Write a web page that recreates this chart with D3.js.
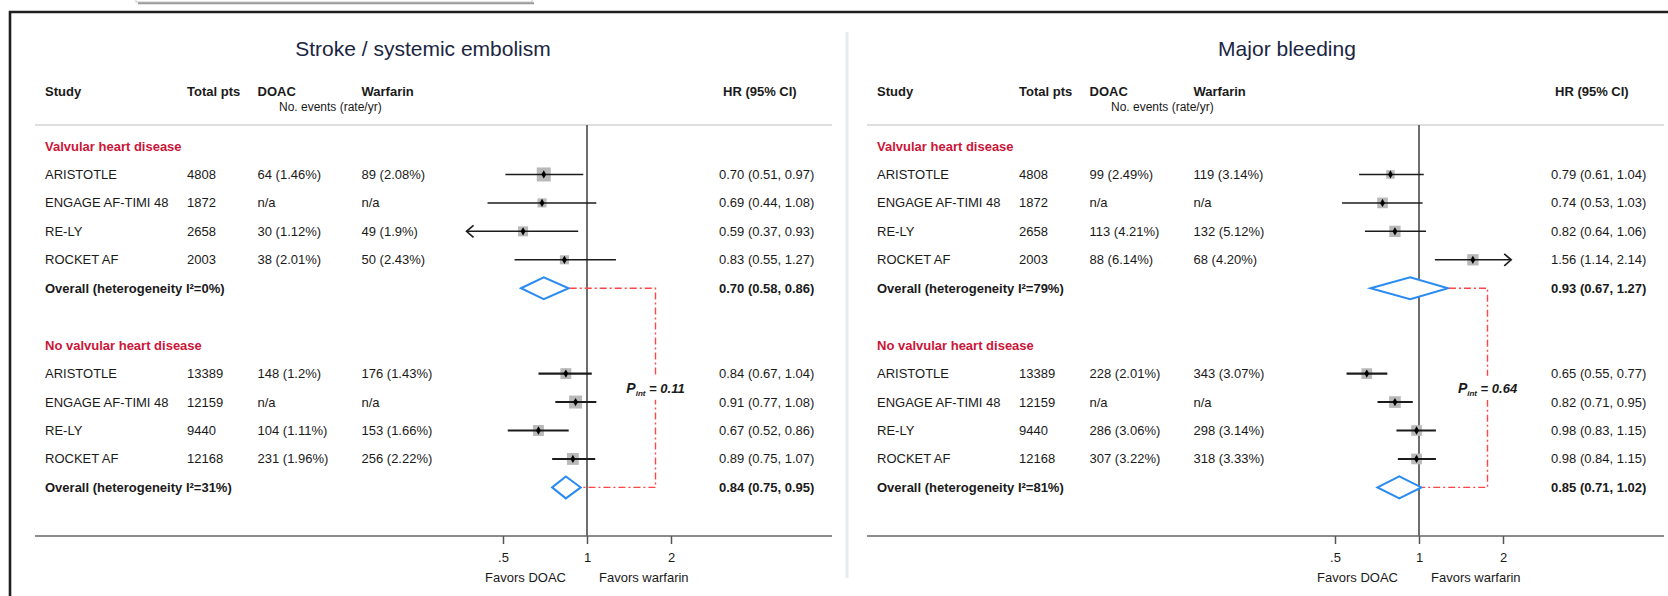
<!DOCTYPE html>
<html>
<head>
<meta charset="utf-8">
<script src="https://cdn.jsdelivr.net/npm/d3@7"></script>
<style>
  html, body { margin: 0; padding: 0; background: #fff; }
  svg { display: block; font-family: "Liberation Sans", Arial, Helvetica, sans-serif; }
</style>
</head>
<body>
<svg id="chart" width="1668" height="596"></svg>
<script>
// ---- Data -------------------------------------------------------------
const studies = ["ARISTOTLE", "ENGAGE AF-TIMI 48", "RE-LY", "ROCKET AF"];
const subgroups = ["Valvular heart disease", "No valvular heart disease"];
const totalPts = [[4808, 1872, 2658, 2003], [13389, 12159, 9440, 12168]];
const tickValues = [0.5, 1, 2];
const tickLabels = [".5", "1", "2"];

// Stroke / systemic embolism
const strokeDoac = [["64 (1.46%)", "n/a", "30 (1.12%)", "38 (2.01%)"],
                    ["148 (1.2%)", "n/a", "104 (1.11%)", "231 (1.96%)"]];
const strokeWarf = [["89 (2.08%)", "n/a", "49 (1.9%)", "50 (2.43%)"],
                    ["176 (1.43%)", "n/a", "153 (1.66%)", "256 (2.22%)"]];
const strokeHR = [[0.70, 0.69, 0.59, 0.83], [0.84, 0.91, 0.67, 0.89]];
const strokeLo = [[0.51, 0.44, 0.37, 0.55], [0.67, 0.77, 0.52, 0.75]];
const strokeHi = [[0.97, 1.08, 0.93, 1.27], [1.04, 1.08, 0.86, 1.07]];
const strokeWeight = [[43, 18, 22, 18], [26, 37, 26, 31]];
const strokeOverallHR = [0.70, 0.84];
const strokeOverallLo = [0.58, 0.75];
const strokeOverallHi = [0.86, 0.95];
const strokeI2 = [0, 31];
const strokePint = 0.11;

// Major bleeding
const bleedDoac = [["99 (2.49%)", "n/a", "113 (4.21%)", "88 (6.14%)"],
                   ["228 (2.01%)", "n/a", "286 (3.06%)", "307 (3.22%)"]];
const bleedWarf = [["119 (3.14%)", "n/a", "132 (5.12%)", "68 (4.20%)"],
                   ["343 (3.07%)", "n/a", "298 (3.14%)", "318 (3.33%)"]];
const bleedHR = [[0.79, 0.74, 0.82, 1.56], [0.65, 0.82, 0.98, 0.98]];
const bleedLo = [[0.61, 0.53, 0.64, 1.14], [0.55, 0.71, 0.83, 0.84]];
const bleedHi = [[1.04, 1.03, 1.06, 2.14], [0.77, 0.95, 1.15, 1.15]];
const bleedWeight = [[16, 25, 28, 28], [25, 30, 25, 25]];
const bleedOverallHR = [0.93, 0.85];
const bleedOverallLo = [0.67, 0.71];
const bleedOverallHi = [1.27, 1.02];
const bleedI2 = [79, 81];
const bleedPint = 0.64;

const panels = [
  { title: "Stroke / systemic embolism", titleX: 423, doac: strokeDoac, warf: strokeWarf,
    hr: strokeHR, lo: strokeLo, hi: strokeHi, w: strokeWeight,
    oHR: strokeOverallHR, oLo: strokeOverallLo, oHi: strokeOverallHi,
    i2: strokeI2, pint: strokePint },
  { title: "Major bleeding", titleX: 455, doac: bleedDoac, warf: bleedWarf,
    hr: bleedHR, lo: bleedLo, hi: bleedHi, w: bleedWeight,
    oHR: bleedOverallHR, oLo: bleedOverallLo, oHi: bleedOverallHi,
    i2: bleedI2, pint: bleedPint }
];

// ---- Layout -----------------------------------------------------------
const svg = d3.select("#chart");
const W = 1668, H = 596;
const panelOffset = 832;
const col = { study: 45, total: 187, doac: 257.5, warf: 361.5, hr: 719 };
const lineLeft = 35, lineRight = 832;
const headerLineY = 125, axisY = 536;
const rowY = d3.scaleLinear().domain([0, 12]).range([146, 487.4]);
const x = d3.scaleLog().domain([0.25, 4]).range([419, 755]);
const clipLo = 0.4, clipHi = 2;      // CI beyond this window gets an arrow
const bracketAt = 1.76;               // x position of the interaction bracket
const boxSide = d3.scaleSqrt().domain([0, 43]).range([0, 14]);
const fmt = d3.format(".2f");

const textCol = "#1a1a1a";
const redCol = "#cc1539";
const blueCol = "#2a8bf2";
const dashRed = "#ff4545";

svg.append("rect").attr("width", W).attr("height", H).attr("fill", "#fff");

// outer frame (top and left edges) and the tab above it
svg.append("rect").attr("x", 136).attr("y", -6).attr("width", 396).attr("height", 8)
  .attr("fill", "#fff").attr("stroke", "#c8c8c8").attr("stroke-width", 1);
svg.append("line").attr("x1", 138).attr("x2", 534).attr("y1", 3.2).attr("y2", 3.2)
  .attr("stroke", "#9a9a9a").attr("stroke-width", 2);
svg.append("path").attr("d", `M10,${H} V12 H${W}`)
  .attr("fill", "none").attr("stroke", "#1f1f1f").attr("stroke-width", 2.6);

// separator between the two panels
svg.append("line").attr("x1", 847).attr("x2", 847).attr("y1", 32).attr("y2", 578)
  .attr("stroke", "#e4ebf1").attr("stroke-width", 3);

panels.forEach((p, pi) => {
  const g = svg.append("g").attr("transform", `translate(${pi * panelOffset},0)`);

  // title
  g.append("text").attr("x", p.titleX).attr("y", 56).attr("text-anchor", "middle")
    .attr("font-size", 21).attr("fill", "#1b2542").text(p.title);

  // column headers
  const hdr = g.append("g").attr("font-size", 13).attr("font-weight", "bold").attr("fill", textCol);
  hdr.append("text").attr("x", col.study).attr("y", 96).text("Study");
  hdr.append("text").attr("x", col.total).attr("y", 96).text("Total pts");
  hdr.append("text").attr("x", col.doac).attr("y", 96).text("DOAC");
  hdr.append("text").attr("x", col.warf).attr("y", 96).text("Warfarin");
  hdr.append("text").attr("x", col.hr + 4).attr("y", 96).text("HR (95% CI)");
  g.append("text").attr("x", 279).attr("y", 111).attr("font-size", 12).attr("fill", textCol)
    .text("No. events (rate/yr)");

  // rules
  g.append("line").attr("x1", lineLeft).attr("x2", lineRight)
    .attr("y1", headerLineY).attr("y2", headerLineY)
    .attr("stroke", "#bdbdbd").attr("stroke-width", 1.2);
  g.append("line").attr("x1", x(1)).attr("x2", x(1))
    .attr("y1", headerLineY).attr("y2", axisY)
    .attr("stroke", "#4a4a4a").attr("stroke-width", 1.6);
  g.append("line").attr("x1", lineLeft).attr("x2", lineRight)
    .attr("y1", axisY).attr("y2", axisY)
    .attr("stroke", "#666").attr("stroke-width", 1.6);

  // axis ticks
  const axis = d3.axisBottom(x).tickValues(tickValues)
    .tickFormat((d, i) => tickLabels[i]).tickSize(8).tickPadding(9);
  const ax = g.append("g").attr("transform", `translate(0,${axisY})`).call(axis);
  ax.select(".domain").remove();
  ax.selectAll(".tick line").attr("stroke", "#555").attr("stroke-width", 1.5);
  ax.selectAll(".tick text").attr("font-size", 13).attr("fill", textCol)
    .attr("font-family", "Liberation Sans, Arial, sans-serif");
  g.append("text").attr("x", x(1) - 21).attr("y", 582).attr("text-anchor", "end")
    .attr("font-size", 13).attr("fill", textCol).text("Favors DOAC");
  g.append("text").attr("x", x(1) + 12).attr("y", 582)
    .attr("font-size", 13).attr("fill", textCol).text("Favors warfarin");

  subgroups.forEach((sg, gi) => {
    const base = gi * 7;
    g.append("text").attr("x", col.study).attr("y", rowY(base) + 4.5)
      .attr("font-size", 13).attr("font-weight", "bold").attr("fill", redCol).text(sg);

    studies.forEach((s, j) => {
      const y = rowY(base + 1 + j);
      const t = g.append("g").attr("font-size", 13).attr("fill", textCol);
      t.append("text").attr("x", col.study).attr("y", y + 4.5).text(s);
      t.append("text").attr("x", col.total).attr("y", y + 4.5).text(totalPts[gi][j]);
      t.append("text").attr("x", col.doac).attr("y", y + 4.5).text(p.doac[gi][j]);
      t.append("text").attr("x", col.warf).attr("y", y + 4.5).text(p.warf[gi][j]);
      t.append("text").attr("x", col.hr).attr("y", y + 4.5)
        .text(`${fmt(p.hr[gi][j])} (${fmt(p.lo[gi][j])}, ${fmt(p.hi[gi][j])})`);

      // marker: weight box, CI line, point estimate
      const side = boxSide(p.w[gi][j]);
      g.append("rect").attr("x", x(p.hr[gi][j]) - side / 2).attr("y", y - side / 2)
        .attr("width", side).attr("height", side).attr("fill", "#b9b9b9");
      const lo = p.lo[gi][j], hi = p.hi[gi][j];
      const sw = gi === 0 ? 1.5 : 2.1;
      g.append("line").attr("x1", x(lo)).attr("x2", x(hi)).attr("y1", y).attr("y2", y)
        .attr("stroke", "#1c1c1c").attr("stroke-width", sw);
      if (lo < clipLo) {
        g.append("path")
          .attr("d", `M${x(lo) + 7},${y - 6} L${x(lo)},${y} L${x(lo) + 7},${y + 6}`)
          .attr("fill", "none").attr("stroke", "#1c1c1c").attr("stroke-width", 1.6);
      }
      if (hi > clipHi) {
        g.append("path")
          .attr("d", `M${x(hi) - 7},${y - 6} L${x(hi)},${y} L${x(hi) - 7},${y + 6}`)
          .attr("fill", "none").attr("stroke", "#1c1c1c").attr("stroke-width", 1.6);
      }
      g.append("path").attr("transform", `translate(${x(p.hr[gi][j])},${y})`)
        .attr("d", d3.symbol(d3.symbolDiamond, 20)()).attr("fill", "#000");
    });

    // pooled estimate
    const oy = rowY(base + 5);
    g.append("text").attr("x", col.study).attr("y", oy + 4.5)
      .attr("font-size", 13).attr("font-weight", "bold").attr("fill", textCol)
      .text(`Overall (heterogeneity I\u00B2=${p.i2[gi]}%)`);
    g.append("text").attr("x", col.hr).attr("y", oy + 4.5)
      .attr("font-size", 13).attr("font-weight", "bold").attr("fill", textCol)
      .text(`${fmt(p.oHR[gi])} (${fmt(p.oLo[gi])}, ${fmt(p.oHi[gi])})`);
    g.append("path")
      .attr("d", `M${x(p.oLo[gi])},${oy} L${x(p.oHR[gi])},${oy - 11} L${x(p.oHi[gi])},${oy} L${x(p.oHR[gi])},${oy + 11} Z`)
      .attr("fill", "#fff").attr("stroke", blueCol).attr("stroke-width", 2);
  });

  // interaction bracket joining the two pooled estimates
  const y1 = rowY(5), y2 = rowY(12), xb = x(bracketAt);
  g.append("path")
    .attr("d", `M${x(p.oHi[0]) + 1},${y1} H${xb} V${y2} H${x(p.oHi[1]) + 1}`)
    .attr("fill", "none").attr("stroke", dashRed).attr("stroke-width", 1.4)
    .attr("stroke-dasharray", "7,3,2,3");
  const ly = (rowY(8) + rowY(9)) / 2;
  g.append("rect").attr("x", xb - 34).attr("y", ly - 12).attr("width", 68).attr("height", 24)
    .attr("fill", "#fff");
  const lbl = g.append("text").attr("x", xb).attr("y", ly + 5).attr("text-anchor", "middle")
    .attr("font-size", 13).attr("font-weight", "bold").attr("font-style", "italic")
    .attr("fill", textCol);
  lbl.append("tspan").attr("font-size", 14).text("P");
  lbl.append("tspan").attr("font-size", 8).attr("dy", 3).text("int");
  lbl.append("tspan").attr("dy", -3).text(` = ${p.pint.toFixed(2)}`);
});
</script>
</body>
</html>
